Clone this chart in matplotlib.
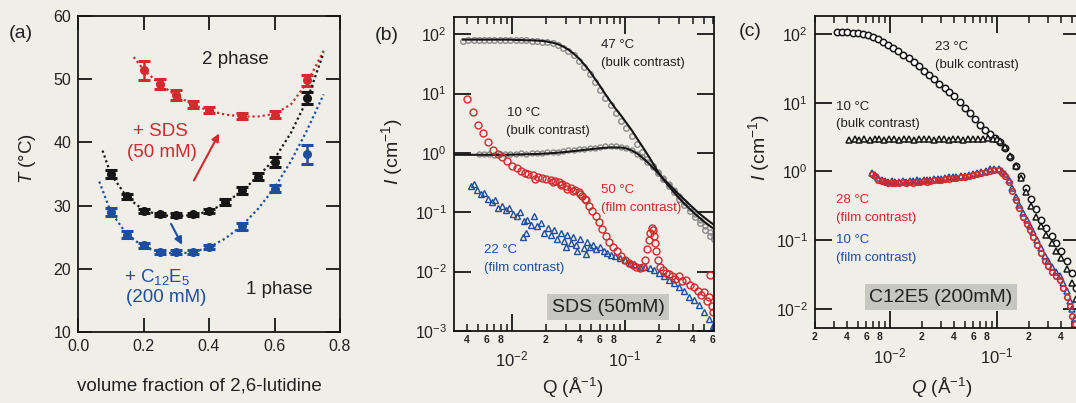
import numpy as np
import matplotlib
matplotlib.use('Agg')
import matplotlib.pyplot as plt
from matplotlib.ticker import LogLocator, FuncFormatter, NullLocator, FixedLocator

plt.rcParams['font.family'] = ['Liberation Sans', 'DejaVu Sans']
plt.rcParams['mathtext.fontset'] = 'custom'
plt.rcParams['mathtext.rm'] = 'Liberation Sans'
plt.rcParams['mathtext.it'] = 'Liberation Sans:italic'
plt.rcParams['mathtext.bf'] = 'Liberation Sans:bold'

# ---------------- data: panel (a) ----------------
phi_pure = [0.10, 0.15, 0.20, 0.25, 0.30, 0.35, 0.40, 0.45, 0.50, 0.55, 0.60, 0.70]
T_pure = [35.0, 31.5, 29.2, 28.6, 28.5, 28.6, 29.2, 30.6, 32.4, 34.6, 36.9, 47.0]
err_pure = [0.6, 0.4, 0.3, 0.3, 0.3, 0.3, 0.3, 0.5, 0.6, 0.5, 0.8, 1.0]

phi_sds = [0.20, 0.25, 0.30, 0.35, 0.40, 0.50, 0.60, 0.70]
T_sds = [51.4, 49.2, 47.5, 46.0, 45.1, 44.2, 44.4, 49.8]
err_sds = [1.5, 0.8, 0.8, 0.5, 0.5, 0.5, 0.5, 0.8]

phi_c12 = [0.10, 0.15, 0.20, 0.25, 0.30, 0.35, 0.40, 0.50, 0.60, 0.70]
T_c12 = [29.0, 25.4, 23.7, 22.7, 22.6, 22.7, 23.5, 26.7, 32.7, 38.1]
err_c12 = [0.6, 0.6, 0.4, 0.3, 0.3, 0.3, 0.3, 0.6, 0.5, 1.5]

fit_phi_pure = [0.075, 0.10, 0.15, 0.20, 0.25, 0.30, 0.35, 0.40, 0.45, 0.50, 0.55, 0.60, 0.65, 0.70, 0.75]
fit_T_pure = [38.7, 35.0, 31.3, 29.3, 28.5, 28.3, 28.5, 29.1, 30.4, 32.3, 34.6, 37.4, 41.5, 46.8, 54.2]
fit_phi_sds = [0.17, 0.20, 0.25, 0.30, 0.35, 0.40, 0.45, 0.50, 0.55, 0.60, 0.65, 0.70, 0.75]
fit_T_sds = [53.5, 51.5, 49.2, 47.4, 46.0, 45.0, 44.4, 44.1, 44.1, 44.5, 46.0, 49.5, 54.5]
fit_phi_c12 = [0.065, 0.10, 0.15, 0.20, 0.25, 0.30, 0.35, 0.40, 0.45, 0.50, 0.55, 0.60, 0.65, 0.70, 0.75]
fit_T_c12 = [33.8, 29.0, 25.4, 23.5, 22.6, 22.4, 22.6, 23.4, 24.8, 26.8, 29.5, 32.8, 37.0, 42.0, 47.6]

# ---------------- data: panel (b) SDS ----------------
q_b = [0.0037, 0.0041, 0.0046, 0.0051, 0.0057, 0.0063, 0.0070, 0.0078, 0.0087, 0.0097,
       0.0108, 0.0120, 0.0134, 0.0149, 0.0166, 0.0185, 0.0206, 0.0229, 0.0255, 0.0284,
       0.0316, 0.0352, 0.0392, 0.0436, 0.0486, 0.054, 0.060, 0.067, 0.075, 0.083,
       0.093, 0.103, 0.115, 0.128, 0.142, 0.158, 0.176, 0.196, 0.218, 0.243,
       0.270, 0.300, 0.335, 0.373, 0.415, 0.460, 0.510, 0.570, 0.610]
I_b47 = [78, 79, 80, 80, 80, 81, 80, 80, 81, 80,
         80, 79, 79, 78, 77, 75, 73, 70, 65, 59,
         52, 44, 36, 28, 21, 15.5, 11.5, 8.5, 6.3, 4.7,
         3.5, 2.6, 1.9, 1.4, 1.02, 0.78, 0.60, 0.46, 0.36, 0.28,
         0.22, 0.17, 0.135, 0.105, 0.083, 0.065, 0.050, 0.040, 0.035]
fit_b47 = [81, 81, 81, 81, 81, 81, 81, 81, 81, 81,
           80, 80, 79, 79, 78, 77, 75, 72, 68, 62,
           55, 47, 39, 31, 24, 18, 13.5, 9.8, 7.2, 5.5,
           4.2, 3.2, 2.4, 1.75, 1.3, 0.95, 0.68, 0.48, 0.36, 0.28,
           0.22, 0.175, 0.14, 0.115, 0.095, 0.080, 0.068, 0.058, 0.053]
q_b10fit = [0.0031, 0.0037, 0.0046, 0.0057, 0.0070, 0.0087, 0.0108, 0.0134, 0.0166, 0.0206,
            0.0255, 0.0316, 0.0392, 0.0486, 0.060, 0.075, 0.093, 0.103, 0.115, 0.128,
            0.142, 0.158, 0.176, 0.196, 0.218, 0.243, 0.270, 0.300, 0.335, 0.373,
            0.415, 0.460, 0.510, 0.570, 0.610]
fit_b10 = [0.93, 0.93, 0.93, 0.93, 0.93, 0.93, 0.94, 0.95, 0.96, 0.98,
           1.01, 1.05, 1.10, 1.15, 1.20, 1.24, 1.23, 1.19, 1.10, 0.98,
           0.84, 0.70, 0.57, 0.46, 0.37, 0.30, 0.245, 0.20, 0.165, 0.135,
           0.112, 0.094, 0.080, 0.068, 0.062]
q_b10 = [0.0051, 0.0057, 0.0063, 0.0070, 0.0078, 0.0087, 0.0097, 0.0108, 0.0120, 0.0134,
         0.0149, 0.0166, 0.0185, 0.0206, 0.0229, 0.0255, 0.0284, 0.0316, 0.0352, 0.0392,
         0.0436, 0.0486, 0.054, 0.060, 0.067, 0.075, 0.083, 0.093, 0.103, 0.115,
         0.128, 0.142, 0.158, 0.176, 0.196, 0.218, 0.243, 0.270, 0.300, 0.335,
         0.373, 0.415, 0.460, 0.510, 0.570, 0.610]
I_b10 = [0.96, 0.95, 0.97, 0.94, 0.96, 0.95, 0.97, 0.96, 0.98, 0.97,
         0.99, 1.00, 1.00, 1.02, 1.03, 1.05, 1.07, 1.10, 1.12, 1.15,
         1.18, 1.20, 1.23, 1.26, 1.29, 1.31, 1.30, 1.27, 1.20, 1.10,
         0.97, 0.84, 0.71, 0.59, 0.48, 0.38, 0.30, 0.24, 0.19, 0.150,
         0.118, 0.092, 0.073, 0.058, 0.046, 0.040]
q_b50 = [0.0040, 0.0045, 0.0050, 0.0055, 0.0061, 0.0068, 0.0075, 0.0082, 0.0090, 0.0100,
         0.0110, 0.0120, 0.0130, 0.0140, 0.0155, 0.0170, 0.0185, 0.0200, 0.0220, 0.0240,
         0.0260, 0.0280, 0.0300, 0.0330, 0.0360, 0.0390, 0.0420, 0.0450, 0.0480, 0.0510,
         0.0550, 0.0590, 0.0630, 0.0680, 0.0730, 0.0790, 0.0850, 0.0920, 0.100, 0.108,
         0.117, 0.126, 0.135, 0.145, 0.152, 0.158, 0.163, 0.168, 0.172, 0.176,
         0.180, 0.185, 0.190, 0.197, 0.205, 0.215, 0.230, 0.245, 0.260, 0.280,
         0.300, 0.320, 0.350, 0.380, 0.410, 0.440, 0.470, 0.500, 0.530, 0.560,
         0.590, 0.600, 0.570, 0.0160, 0.0230, 0.0270, 0.0310, 0.0350, 0.0400, 0.0440]
I_b50 = [8.0, 4.9, 3.0, 2.2, 1.5, 1.1, 0.95, 0.85, 0.72, 0.60,
         0.55, 0.50, 0.46, 0.44, 0.42, 0.40, 0.38, 0.37, 0.35, 0.34,
         0.32, 0.30, 0.28, 0.26, 0.24, 0.22, 0.19, 0.16, 0.13, 0.105,
         0.085, 0.068, 0.053, 0.040, 0.032, 0.026, 0.022, 0.018, 0.016, 0.014,
         0.013, 0.012, 0.0115, 0.012, 0.016, 0.024, 0.034, 0.045, 0.055, 0.050,
         0.040, 0.030, 0.022, 0.016, 0.012, 0.0105, 0.0095, 0.0090, 0.0085, 0.0075,
         0.0085, 0.0070, 0.0072, 0.0060, 0.0055, 0.0048, 0.0040, 0.0045, 0.0032, 0.0038,
         0.0026, 0.0021, 0.0088, 0.37, 0.32, 0.29, 0.25, 0.23, 0.20, 0.17]
q_b22 = [0.0043, 0.0046, 0.0049, 0.0053, 0.0057, 0.0061, 0.0066, 0.0071, 0.0076, 0.0082,
         0.0088, 0.0095, 0.0102, 0.0110, 0.0118, 0.0127, 0.0136, 0.0146, 0.0157, 0.0168,
         0.0180, 0.0193, 0.0207, 0.0220, 0.0235, 0.0250, 0.0270, 0.0290, 0.0310, 0.0330,
         0.0350, 0.0370, 0.0400, 0.0430, 0.0460, 0.0490, 0.0520, 0.0560, 0.0600, 0.0650,
         0.0700, 0.0760, 0.0820, 0.0900, 0.100, 0.110, 0.120, 0.135, 0.150, 0.165,
         0.180, 0.200, 0.220, 0.245, 0.270, 0.300, 0.330, 0.370, 0.410, 0.450,
         0.500, 0.550, 0.600, 0.0125, 0.0132, 0.0300, 0.0380, 0.0450]
I_b22 = [0.28, 0.30, 0.24, 0.20, 0.21, 0.17, 0.15, 0.16, 0.12, 0.13,
         0.11, 0.12, 0.095, 0.085, 0.10, 0.070, 0.075, 0.060, 0.085, 0.058,
         0.065, 0.045, 0.055, 0.042, 0.050, 0.036, 0.045, 0.033, 0.042, 0.030,
         0.038, 0.028, 0.035, 0.025, 0.032, 0.026, 0.028, 0.024, 0.026, 0.022,
         0.021, 0.019, 0.018, 0.017, 0.0155, 0.014, 0.0135, 0.012, 0.0122, 0.0115,
         0.0105, 0.0095, 0.0085, 0.0072, 0.0065, 0.0055, 0.0048, 0.0038, 0.0033, 0.0027,
         0.0021, 0.0016, 0.0012, 0.038, 0.045, 0.026, 0.022, 0.020]

# ---------------- data: panel (c) C12E5 ----------------
q_c23 = [0.0032, 0.0036, 0.0040, 0.0045, 0.0050, 0.0056, 0.0062, 0.0069, 0.0077, 0.0086,
         0.0096, 0.0107, 0.0120, 0.0134, 0.0150, 0.0167, 0.0187, 0.0210, 0.0234, 0.0260,
         0.0290, 0.0325, 0.0360, 0.0400, 0.0450, 0.0500, 0.0560, 0.0620, 0.0690, 0.0770,
         0.0860, 0.0960, 0.107, 0.120, 0.134, 0.150, 0.167, 0.187, 0.210, 0.234,
         0.260, 0.290, 0.325, 0.360, 0.400, 0.450, 0.500, 0.550, 0.600]
I_c23 = [108, 107, 106, 104, 102, 99, 95, 90, 84, 77,
         70, 63, 56, 50, 44, 39, 34, 29, 25, 22,
         19, 16.5, 14.5, 12.5, 10.3, 8.5, 7.0, 5.8, 4.8, 4.0,
         3.5, 3.1, 2.7, 2.2, 1.65, 1.2, 0.85, 0.58, 0.40, 0.28,
         0.20, 0.15, 0.115, 0.090, 0.070, 0.050, 0.033, 0.020, 0.013]
q_c10 = [0.0042, 0.0047, 0.0052, 0.0058, 0.0065, 0.0072, 0.0080, 0.0089, 0.0099, 0.0110,
         0.0122, 0.0136, 0.0151, 0.0168, 0.0187, 0.0208, 0.0231, 0.0257, 0.0286, 0.0318,
         0.0354, 0.0394, 0.0438, 0.0487, 0.054, 0.060, 0.067, 0.075, 0.083, 0.092,
         0.100, 0.107, 0.120, 0.134, 0.150, 0.167, 0.187, 0.210, 0.234, 0.260,
         0.290, 0.325, 0.360, 0.400, 0.450, 0.500, 0.550, 0.600]
I_c10 = [2.9, 2.95, 2.85, 3.0, 2.9, 2.95, 3.0, 2.9, 2.95, 3.0,
         2.9, 2.95, 3.0, 2.9, 2.95, 3.0, 2.95, 2.9, 3.0, 2.95,
         2.9, 3.0, 2.95, 2.9, 3.0, 2.95, 3.0, 3.0, 3.05, 3.0,
         2.95, 2.8, 2.3, 1.7, 1.2, 0.80, 0.50, 0.32, 0.22, 0.16,
         0.12, 0.090, 0.070, 0.055, 0.038, 0.024, 0.014, 0.009]
q_c28 = [0.0068, 0.0073, 0.0078, 0.0084, 0.0090, 0.0097, 0.0105, 0.0113, 0.0122, 0.0132,
         0.0142, 0.0153, 0.0165, 0.0178, 0.0192, 0.0207, 0.0223, 0.0240, 0.0260, 0.0280,
         0.0300, 0.0330, 0.0360, 0.0390, 0.0420, 0.0460, 0.0500, 0.0550, 0.0600, 0.0660,
         0.0720, 0.0790, 0.0870, 0.0950, 0.104, 0.112, 0.120, 0.130, 0.140, 0.150,
         0.162, 0.175, 0.190, 0.205, 0.220, 0.240, 0.260, 0.280, 0.300, 0.330,
         0.360, 0.390, 0.420, 0.450, 0.480, 0.510, 0.540]
I_c28 = [0.92, 0.85, 0.76, 0.72, 0.70, 0.68, 0.69, 0.67, 0.68, 0.70,
         0.68, 0.70, 0.69, 0.71, 0.70, 0.72, 0.71, 0.73, 0.74, 0.75,
         0.76, 0.77, 0.79, 0.80, 0.81, 0.83, 0.84, 0.86, 0.88, 0.91,
         0.95, 0.99, 1.03, 1.05, 1.04, 0.95, 0.85, 0.70, 0.52, 0.38,
         0.29, 0.22, 0.17, 0.14, 0.11, 0.085, 0.065, 0.050, 0.042, 0.035,
         0.030, 0.026, 0.020, 0.015, 0.011, 0.008, 0.006]
I_c10f = [0.95, 0.88, 0.80, 0.75, 0.73, 0.71, 0.72, 0.70, 0.71, 0.73,
          0.71, 0.73, 0.72, 0.74, 0.73, 0.75, 0.74, 0.76, 0.77, 0.78,
          0.79, 0.80, 0.82, 0.83, 0.84, 0.86, 0.87, 0.89, 0.92, 0.95,
          0.99, 1.03, 1.07, 1.10, 1.09, 1.01, 0.91, 0.76, 0.57, 0.42,
          0.33, 0.25, 0.20, 0.16, 0.13, 0.10, 0.078, 0.060, 0.050, 0.041,
          0.035, 0.030, 0.024, 0.018, 0.013, 0.010, 0.0075]

# ---------------- figure ----------------
W, H = 1076, 403
BG = '#f0eee9'
TXT = '#222222'
RED = '#d22a2e'
BLUE = '#1f4e9e'
BLACK = '#161616'
GRAY = '#8a8a8a'
BOXC = '#c6c6c2'

fig = plt.figure(figsize=(W / 100, H / 100), dpi=100)
fig.patch.set_facecolor(BG)


def box(l, t, r, b):
    return [l / W, 1 - b / H, (r - l) / W, (b - t) / H]


def ftxt(x, y, s, **kw):
    kw.setdefault('va', 'center')
    kw.setdefault('color', TXT)
    fig.text(x / W, 1 - y / H, s, **kw)


axa = fig.add_axes(box(78, 16, 340, 332))
axb = fig.add_axes(box(454, 17, 714, 331))
axc = fig.add_axes(box(815, 16, 1080, 328))
for ax in (axa, axb, axc):
    ax.set_facecolor(BG)
    for s in ax.spines.values():
        s.set_linewidth(1.3)
        s.set_color(BLACK)

# ---- panel (a)
for (fx, fy, x, y, e, c) in [(fit_phi_sds, fit_T_sds, phi_sds, T_sds, err_sds, RED),
                             (fit_phi_pure, fit_T_pure, phi_pure, T_pure, err_pure, BLACK),
                             (fit_phi_c12, fit_T_c12, phi_c12, T_c12, err_c12, BLUE)]:
    axa.plot(fx, fy, ls=(0, (1, 1.3)), lw=1.6, color=c)
    axa.errorbar(x, y, yerr=e, fmt='o', ms=5.5, color=c, ecolor=c, elinewidth=1.8,
                 capsize=4.2, capthick=2.2)
axa.set_xlim(0, 0.8)
axa.set_ylim(10, 60)
axa.set_xticks([0.0, 0.2, 0.4, 0.6, 0.8])
axa.set_xticklabels(['0.0', '0.2', '0.4', '0.6', '0.8'])
axa.set_yticks([10, 20, 30, 40, 50, 60])
axa.tick_params(which='major', direction='in', length=10, width=1.3, top=True, right=True,
                labelsize=11.5, colors=BLACK, labelcolor=TXT, pad=5)
axa.annotate('', xy=(0.435, 41.8), xytext=(0.35, 33.6),
             arrowprops=dict(arrowstyle='-|>', color=RED, lw=1.5, mutation_scale=11))
axa.annotate('', xy=(0.322, 23.4), xytext=(0.28, 27.5),
             arrowprops=dict(arrowstyle='-|>', color=BLUE, lw=1.5, mutation_scale=11))
ftxt(235, 60, '2 phase', ha='center', fontsize=13.5)
ftxt(160, 132, '+ SDS', ha='center', fontsize=13.5, color=RED)
ftxt(162, 153, '(50 mM)', ha='center', fontsize=13.5, color=RED)
ftxt(157, 277, r'+ C$_{12}$E$_5$', ha='center', fontsize=13.5, color=BLUE)
ftxt(166, 298, '(200 mM)', ha='center', fontsize=13.5, color=BLUE)
ftxt(279, 289, '1 phase', ha='center', fontsize=13.5)
ftxt(21, 33, '(a)', ha='center', fontsize=14)
ftxt(27, 158, r'$T$ (°C)', ha='center', rotation=90, fontsize=13.5)
ftxt(199, 386, 'volume fraction of 2,6-lutidine', ha='center', fontsize=13.5)


# ---- log panels helper
def minor_fmt(v, pos):
    d = int(round(v / 10 ** np.floor(np.log10(v) + 1e-9)))
    return str(d) if d in (2, 4, 6, 8) else ''


def style_log(ax):
    ax.set_xscale('log')
    ax.set_yscale('log')
    ax.xaxis.set_major_locator(FixedLocator([1e-3, 1e-2, 1e-1, 1.0]))
    ax.xaxis.set_minor_locator(LogLocator(base=10, subs=range(2, 10), numticks=20))
    ax.xaxis.set_minor_formatter(FuncFormatter(minor_fmt))
    ax.yaxis.set_major_locator(LogLocator(base=10, numticks=20))
    ax.yaxis.set_minor_locator(NullLocator())
    ax.tick_params(which='major', direction='in', length=12, width=1.3, top=True, right=True,
                   labelsize=11.5, colors=BLACK, labelcolor=TXT)
    ax.tick_params(axis='x', which='major', pad=13, labelsize=12)
    ax.tick_params(axis='x', which='minor', direction='in', length=5, width=1.1, top=True,
                   labelsize=7.5, pad=3, colors=BLACK, labelcolor=TXT)
    ax.tick_params(axis='y', which='major', pad=5)


# ---- panel (b)
style_log(axb)
axb.plot(q_b, I_b47, 'o', ms=4.0, mfc='none', mec=GRAY, mew=1.0)
axb.plot(q_b10, I_b10, 'o', ms=3.6, mfc='none', mec=GRAY, mew=1.0)
axb.plot(q_b, fit_b47, '-', color=BLACK, lw=1.5)
axb.plot(q_b10fit, fit_b10, '-', color=BLACK, lw=1.5)
axb.plot(q_b22, I_b22, '^', ms=4.6, mfc='none', mec=BLUE, mew=1.0)
axb.plot(q_b50, I_b50, 'o', ms=5.0, mfc='none', mec=RED, mew=1.0)
axb.set_xlim(0.00307, 0.614)
axb.set_ylim(1e-3, 195)

ftxt(601, 45, '47 °C', ha='left', fontsize=9.5)
ftxt(601, 63, '(bulk contrast)', ha='left', fontsize=9.5)
ftxt(507, 113, '10 °C', ha='left', fontsize=9.5)
ftxt(506, 131, '(bulk contrast)', ha='left', fontsize=9.5)
ftxt(601, 190, '50 °C', ha='left', fontsize=9.5, color=RED)
ftxt(601, 208, '(film contrast)', ha='left', fontsize=9.5, color=RED)
ftxt(484, 250, '22 °C', ha='left', fontsize=9.5, color=BLUE)
ftxt(484, 268, '(film contrast)', ha='left', fontsize=9.5, color=BLUE)
ftxt(608, 307, 'SDS (50mM)', ha='center', fontsize=14,
     bbox=dict(boxstyle='square,pad=0.25', fc=BOXC, ec='none'))
ftxt(387, 36, '(b)', ha='center', fontsize=14)
ftxt(392, 152, r'$I$ (cm$^{-1}$)', ha='center', rotation=90, fontsize=14)
ftxt(573, 388, r'Q (Å$^{-1}$)', ha='center', fontsize=13.5)

# ---- panel (c)
style_log(axc)
axc.plot(q_c23, I_c23, 'o', ms=4.6, mfc='white', mec=BLACK, mew=1.1)
axc.plot(q_c10, I_c10, '^', ms=4.2, mfc='white', mec=BLACK, mew=1.1)
axc.plot(q_c28, I_c10f, '^', ms=4.0, mfc='none', mec=BLUE, mew=1.1)
axc.plot(q_c28, I_c28, 'o', ms=4.0, mfc='none', mec=RED, mew=1.2)
axc.set_xlim(0.002, 0.6)
axc.set_ylim(0.0053, 182)

ftxt(935, 47, '23 °C', ha='left', fontsize=9.5)
ftxt(935, 65, '(bulk contrast)', ha='left', fontsize=9.5)
ftxt(836, 107, '10 °C', ha='left', fontsize=9.5)
ftxt(836, 124, '(bulk contrast)', ha='left', fontsize=9.5)
ftxt(836, 200, '28 °C', ha='left', fontsize=9.5, color=RED)
ftxt(836, 218, '(film contrast)', ha='left', fontsize=9.5, color=RED)
ftxt(836, 240, '10 °C', ha='left', fontsize=9.5, color=BLUE)
ftxt(836, 258, '(film contrast)', ha='left', fontsize=9.5, color=BLUE)
ftxt(941, 297, 'C12E5 (200mM)', ha='center', fontsize=14,
     bbox=dict(boxstyle='square,pad=0.25', fc=BOXC, ec='none'))
ftxt(750, 32, '(c)', ha='center', fontsize=14)
ftxt(759, 148, r'$I$ (cm$^{-1}$)', ha='center', rotation=90, fontsize=14)
ftxt(942, 388, r'$Q$ (Å$^{-1}$)', ha='center', fontsize=13.5)

for ax in (axb, axc):
    plt.setp(ax.xaxis.get_minorticklabels(), fontweight='bold')

fig.savefig('out.png', dpi=100, facecolor=BG)
